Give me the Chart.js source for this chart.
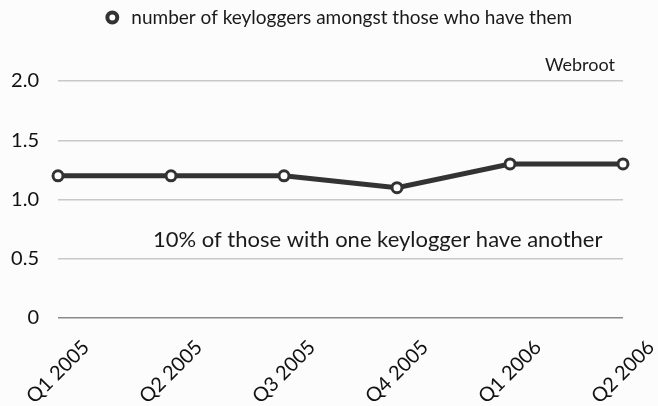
<!DOCTYPE html>
<html>
<head>
<meta charset="utf-8">
<script src="https://cdn.jsdelivr.net/npm/chart.js@4/dist/chart.umd.min.js"></script>
<style>
  html, body { margin: 0; padding: 0; background: #fcfcfc; }
  #wrap { width: 658px; height: 406px; }
</style>
</head>
<body>
<div id="wrap"><canvas id="kl-chart" width="658" height="406"></canvas></div>
<script>
const quarters = ["Q1 2005", "Q2 2005", "Q3 2005", "Q4 2005", "Q1 2006", "Q2 2006"];
const keyloggers = [1.2, 1.2, 1.2, 1.1, 1.3, 1.3];
const yTicks = [0, 0.5, 1.0, 1.5, 2.0];
const seriesName = "number of keyloggers amongst those who have them";
const sourceNote = "Webroot";
const caption = "10% of those with one keylogger have another";

const fontFamily = "Lato, 'Open Sans', sans-serif";

// extra texts drawn on the canvas, plus the x labels centred on their ticks
const notes = {
  id: 'notes',
  afterLayout(chart) {
    // legend sits centred over the plot, not the whole canvas
    chart.legend.left += 22;
    chart.legend.right += 22;
  },
  afterDraw(chart) {
    const { ctx, chartArea } = chart;
    const xs = chart.scales.x;
    const ys = chart.scales.y;
    ctx.save();
    ctx.fillStyle = '#1a1a1a';
    ctx.textBaseline = 'alphabetic';
    ctx.font = "18px " + fontFamily;
    ctx.textAlign = 'right';
    ctx.fillText(sourceNote, chartArea.right - 8, chartArea.top - 10);
    ctx.font = "22px " + fontFamily;
    ctx.textAlign = 'left';
    ctx.fillText(caption, 153, ys.getPixelForValue(0.6));

    ctx.font = "20px " + fontFamily;
    ctx.textAlign = 'center';
    ctx.textBaseline = 'middle';
    ctx.fillStyle = '#111';
    quarters.forEach((q, i) => {
      ctx.save();
      ctx.translate(xs.getPixelForTick(i), chartArea.bottom + 54);
      ctx.rotate(-Math.PI / 4);
      ctx.fillText(q, 0, 0);
      ctx.restore();
    });
    ctx.restore();
  }
};

document.addEventListener("DOMContentLoaded", e => {
  const data = {
    labels: quarters,
    datasets: [{
      label: seriesName,
      data: keyloggers,
      borderColor: '#333333',
      borderWidth: 5,
      pointRadius: 5,
      pointBorderWidth: 3,
      pointBackgroundColor: '#ffffff',
      pointBorderColor: '#333333',
      tension: 0
    }]
  };

  const config = {
    type: 'line',
    data: data,
    options: {
      responsive: false,
      animation: false,
      layout: { padding: { top: 0, right: 35, left: 8, bottom: 0 } },
      plugins: {
        tooltip: { enabled: false },
        legend: {
          position: 'top',
          labels: {
            usePointStyle: true,
            boxWidth: 19,
            boxHeight: 7,
            color: '#1a1a1a',
            font: { family: fontFamily, size: 19 },
            padding: 8,
            generateLabels: chart => [{
              text: seriesName,
              pointStyle: 'circle',
              fillStyle: '#ffffff',
              strokeStyle: '#333333',
              lineWidth: 4,
              fontColor: '#1a1a1a',
              datasetIndex: 0
            }]
          }
        }
      },
      scales: {
        x: {
          offset: false,
          grid: { display: false, drawTicks: false },
          border: { display: false },
          afterFit(scale) { scale.height = 88; },
          ticks: { display: false }
        },
        y: {
          min: 0,
          max: 2,
          afterFit(scale) { scale.width = 50; },
          afterBuildTicks(scale) { scale.ticks = yTicks.map(v => ({ value: v })); },
          grid: {
            drawTicks: false,
            lineWidth: 1.5,
            color: ctx => ctx.tick && ctx.tick.value === 0 ? '#8a8a8a' : '#c8c8c8'
          },
          border: { display: false },
          ticks: {
            color: '#111',
            padding: 19,
            font: { family: fontFamily, size: 20 },
            callback: v => v === 0 ? '0' : v.toFixed(1)
          }
        }
      }
    },
    plugins: [notes, {
      id: 'legendGap',
      beforeInit(chart) {
        const fit = chart.legend.fit;
        chart.legend.fit = function () {
          fit.bind(chart.legend)();
          this.height += 44;
        };
      }
    }]
  };

  const myChart = new Chart(document.getElementById('kl-chart'), config);
});
</script>
</body>
</html>
